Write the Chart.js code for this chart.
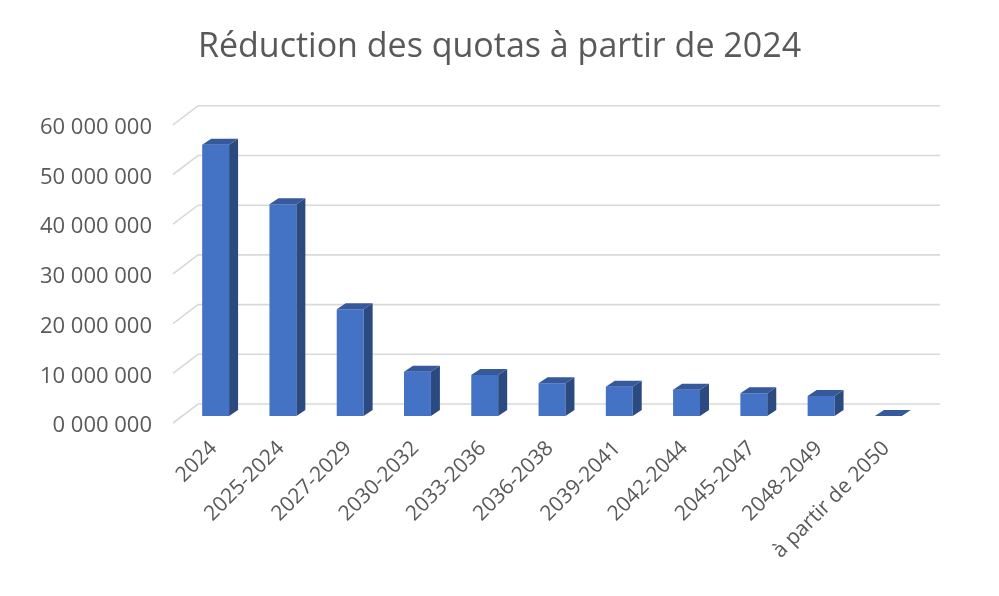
<!DOCTYPE html>
<html><head><meta charset="utf-8">
<script src="https://cdn.jsdelivr.net/npm/chart.js@4.4.0/dist/chart.umd.min.js"></script>
<style>html,body{margin:0;padding:0;background:#fff;}#wrap{width:999px;height:596px;}</style>
</head><body><div id="wrap"><canvas id="c" width="999" height="596"></canvas></div>
<script>
const categories = ['2024','2025-2024','2027-2029','2030-2032','2033-2036','2036-2038','2039-2041','2042-2044','2045-2047','2048-2049','à partir de 2050'];
const quotas = [54600000, 42600000, 21500000, 8900000, 8250000, 6600000, 5900000, 5300000, 4600000, 4000000, 0];
const yTickValues = [0, 10000000, 20000000, 30000000, 40000000, 50000000, 60000000];
const yTickLabels = ['0 000 000','10 000 000','20 000 000','30 000 000','40 000 000','50 000 000','60 000 000'];
const titleText = 'Réduction des quotas à partir de 2024';

const FONT = '"Open Sans", "Liberation Sans", sans-serif';
const DX = 9, DY = 6;

const wall3d = {
  id: 'wall3d',
  beforeDatasetsDraw(chart) {
    const ctx = chart.ctx, ys = chart.scales.y, a = chart.chartArea;
    ctx.save();
    ctx.strokeStyle = '#d9d9d9';
    ctx.lineWidth = 1.6;
    yTickValues.forEach(v => {
      const yb = ys.getPixelForValue(v);
      ctx.beginPath();
      ctx.moveTo(a.left - 9, yb + 7);
      ctx.lineTo(a.left + 16, yb - 12);
      ctx.lineTo(a.right + 18, yb - 12);
      ctx.stroke();
    });
    ctx.restore();
  },
  afterDatasetsDraw(chart) {
    const ctx = chart.ctx;
    const meta = chart.getDatasetMeta(0);
    ctx.save();
    meta.data.forEach(bar => {
      const p = bar.getProps(['x','y','base','width'], true);
      const l = p.x - p.width / 2, r = p.x + p.width / 2;
      if (p.base - p.y > 0.5) {
        ctx.fillStyle = '#2b4a80';
        ctx.beginPath();
        ctx.moveTo(r, p.y); ctx.lineTo(r + DX, p.y - DY);
        ctx.lineTo(r + DX, p.base - DY); ctx.lineTo(r, p.base);
        ctx.closePath(); ctx.fill();
      }
      ctx.fillStyle = '#35599a';
      ctx.beginPath();
      ctx.moveTo(l, p.y); ctx.lineTo(l + DX, p.y - DY);
      ctx.lineTo(r + DX, p.y - DY); ctx.lineTo(r, p.y);
      ctx.closePath(); ctx.fill();
    });
    ctx.restore();
  }
};

new Chart(document.getElementById('c'), {
  type: 'bar',
  data: {
    labels: categories,
    datasets: [{
      data: quotas,
      backgroundColor: '#4472c4',
      borderWidth: 0,
      barPercentage: 0.4,
      categoryPercentage: 1.0
    }]
  },
  options: {
    responsive: false,
    animation: false,
    devicePixelRatio: 1,
    layout: { padding: 0 },
    plugins: {
      legend: { display: false },
      tooltip: { enabled: false },
      title: {
        display: true,
        text: titleText,
        color: '#595959',
        font: { family: FONT, size: 34, weight: 'normal' },
        padding: { top: 27, bottom: 50 }
      }
    },
    scales: {
      x: {
        grid: { display: false, drawTicks: false },
        border: { display: false },
        ticks: {
          color: '#595959',
          font: { family: FONT, size: 21 },
          maxRotation: 45, minRotation: 45,
          autoSkip: false,
          padding: 20,
          labelOffset: -2
        },
        afterFit(s) { s.height = 180; }
      },
      y: {
        min: 0, max: 60000000,
        grid: { display: false, drawTicks: false },
        border: { display: false },
        afterBuildTicks(s) { s.ticks = yTickValues.map(v => ({ value: v })); },
        ticks: {
          color: '#595959',
          font: { family: FONT, size: 22 },
          padding: 30,
          labelOffset: 10,
          callback: (v) => yTickLabels[yTickValues.indexOf(v)]
        },
        afterFit(s) { s.width = 182; }
      },
      yRight: {
        position: 'right',
        display: true,
        grid: { display: false, drawTicks: false },
        border: { display: false },
        ticks: { display: false },
        afterFit(s) { s.width = 77; }
      }
    }
  },
  plugins: [wall3d]
});
</script>
</body></html>
